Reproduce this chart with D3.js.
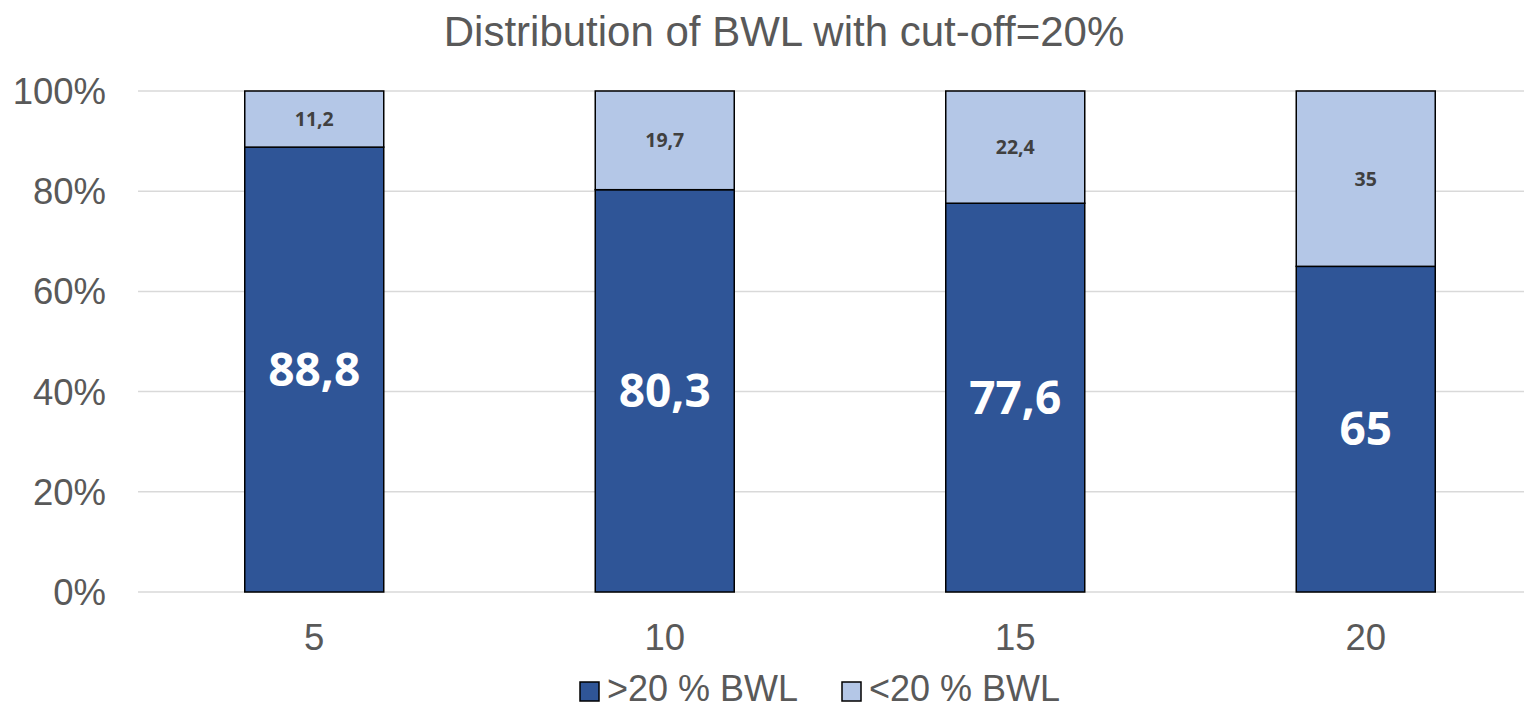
<!DOCTYPE html>
<html><head><meta charset="utf-8">
<script src="https://cdn.jsdelivr.net/npm/d3@7"></script>
<style>body{margin:0;background:#fff}svg{display:block}</style>
</head><body>
<svg id="c" width="1524" height="709"></svg>
<script>
const categories = ["5", "10", "15", "20"];
const above = [88.8, 80.3, 77.6, 65];
const below = [11.2, 19.7, 22.4, 35];
const aboveLabels = ["88,8", "80,3", "77,6", "65"];
const belowLabels = ["11,2", "19,7", "22,4", "35"];
const yTicks = [0, 20, 40, 60, 80, 100];
const seriesNames = [">20 % BWL", "<20 % BWL"];
const colors = ["#2F5597", "#B4C7E7"];

const svg = d3.select("#c");
const x = d3.scaleBand().domain(categories).range([139, 1541]).paddingInner(0.6).paddingOuter(0.3);
const y = d3.scaleLinear().domain([0, 100]).range([592, 91]);
const FONT = "Liberation Sans, Arial, sans-serif";

svg.append("text").attr("x", 784).attr("y", 46).attr("text-anchor", "middle")
  .attr("font-family", FONT).attr("font-size", 42).attr("fill", "#595959")
  .text("Distribution of BWL with cut-off=20%");

const g = svg.append("g");
g.selectAll("line.grid").data(yTicks).join("line")
  .attr("x1", 138).attr("x2", 1524).attr("y1", d => y(d)).attr("y2", d => y(d))
  .attr("stroke", "#D9D9D9").attr("stroke-width", 1.5);

g.selectAll("text.yt").data(yTicks).join("text")
  .attr("x", 106).attr("y", d => y(d) + 13).attr("text-anchor", "end")
  .attr("font-family", FONT).attr("font-size", 36.5).attr("fill", "#595959")
  .text(d => d + "%");

const bw = 139;
const data = categories.map((c, i) => ({c, a: above[i], b: below[i], al: aboveLabels[i], bl: belowLabels[i]}));
const cx = d => x(d.c) + x.bandwidth() / 2;

g.selectAll("rect.a").data(data).join("rect")
  .attr("x", d => cx(d) - bw / 2).attr("width", bw)
  .attr("y", d => y(d.a)).attr("height", d => y(0) - y(d.a))
  .attr("fill", colors[0]).attr("stroke", "#000").attr("stroke-width", 1.5);
g.selectAll("rect.b").data(data).join("rect")
  .attr("x", d => cx(d) - bw / 2).attr("width", bw)
  .attr("y", d => y(d.a + d.b)).attr("height", d => y(d.a) - y(d.a + d.b))
  .attr("fill", colors[1]).attr("stroke", "#000").attr("stroke-width", 1.5);

g.selectAll("text.al").data(data).join("text")
  .attr("x", cx).attr("y", d => y(d.a / 2) + 16).attr("text-anchor", "middle")
  .attr("font-family", "Open Sans, sans-serif").attr("font-weight", "bold").attr("font-size", 46).attr("fill", "#fff")
  .text(d => d.al);
g.selectAll("text.bl").data(data).join("text")
  .attr("x", cx).attr("y", d => y(d.a + d.b / 2) + 7).attr("text-anchor", "middle")
  .attr("font-family", "Open Sans, sans-serif").attr("font-weight", "bold").attr("font-size", 19.5).attr("fill", "#404040")
  .text(d => d.bl);

g.selectAll("text.xt").data(categories).join("text")
  .attr("x", d => x(d) + x.bandwidth() / 2).attr("y", 650).attr("text-anchor", "middle")
  .attr("font-family", FONT).attr("font-size", 36.5).attr("fill", "#595959")
  .text(d => d);

const legX = [580, 842];
const lg = svg.append("g");
seriesNames.forEach((n, i) => {
  lg.append("rect").attr("x", legX[i]).attr("y", 682).attr("width", 19).attr("height", 19)
    .attr("fill", colors[i]).attr("stroke", "#000").attr("stroke-width", 1.5);
  lg.append("text").attr("x", legX[i] + 27).attr("y", 701)
    .attr("font-family", FONT).attr("font-size", 36).attr("fill", "#595959")
    .text(n);
});
</script>
</body></html>
